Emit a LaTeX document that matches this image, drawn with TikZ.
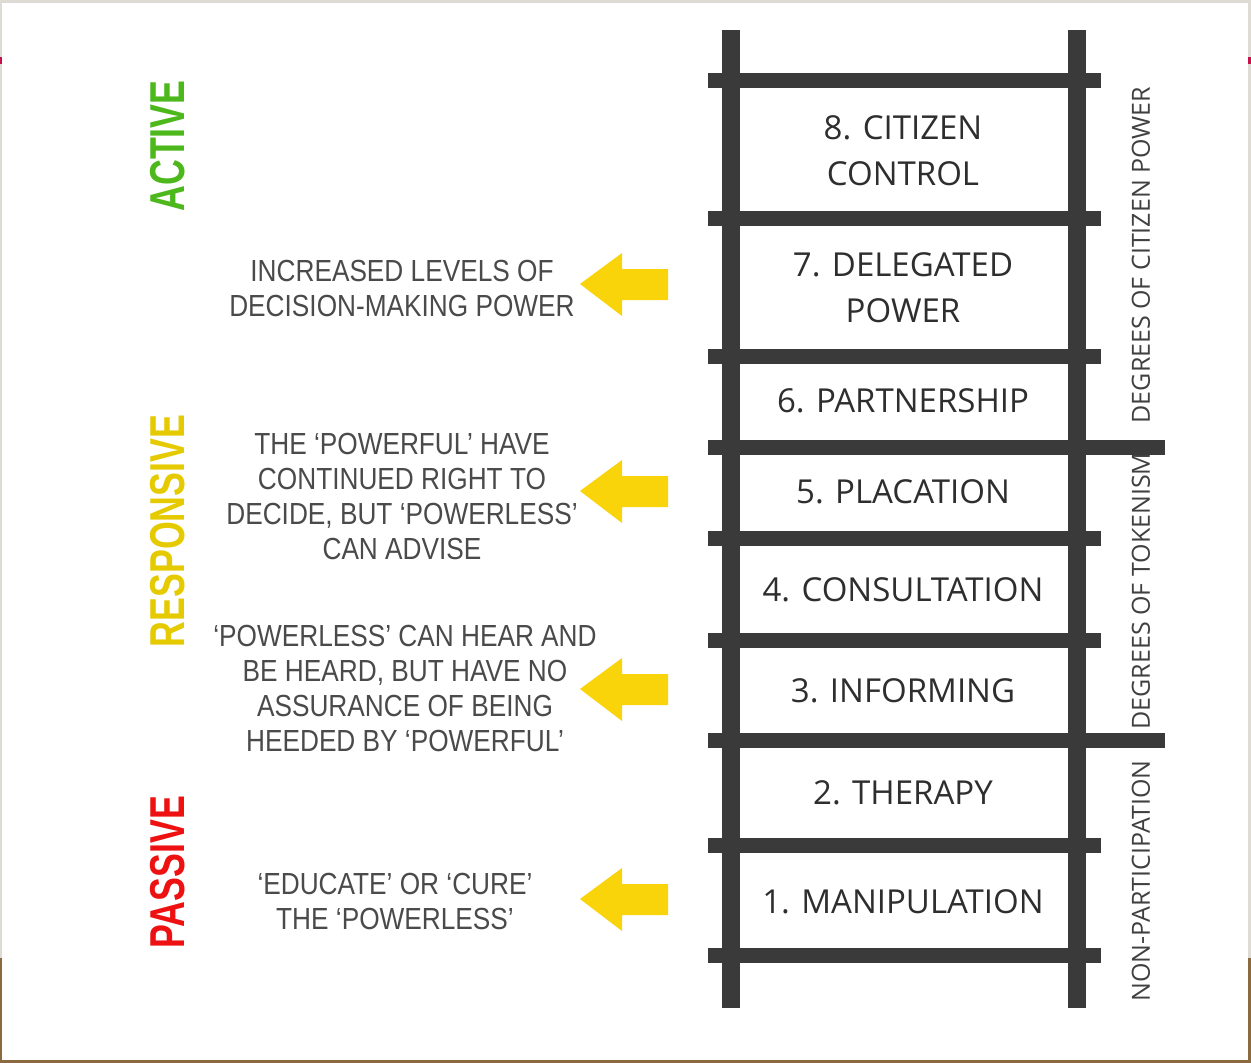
\documentclass[tikz,border=0pt]{standalone}
\usepackage{fontspec}
\newfontfamily\rungfont{Open Sans}
\newfontfamily\notefont[FakeStretch=0.86]{Liberation Sans}
\newfontfamily\levelfont[FakeStretch=0.73]{Liberation Sans}
\definecolor{ladder}{HTML}{3A3A3A}
\definecolor{rungtext}{HTML}{2E2E2E}
\definecolor{notetext}{HTML}{4A4A4A}
\definecolor{sidetext}{HTML}{404040}
\definecolor{arrowyellow}{HTML}{FAD40A}
\definecolor{activegreen}{HTML}{4CB81C}
\definecolor{respyellow}{HTML}{E6CA00}
\definecolor{passivered}{HTML}{EE1111}
\definecolor{framegrey}{HTML}{DEDAD4}
\definecolor{framebrown}{HTML}{8A6A3E}
\definecolor{tickred}{HTML}{C8104A}
\begin{document}
\begin{tikzpicture}[x=1bp,y=-1bp,
  rail/.style={ladder,line width=18bp},
  rung/.style={ladder,line width=15bp},
  rungtxt/.style={text=rungtext,font=\rungfont\fontsize{33bp}{46bp}\selectfont,align=center,inner sep=0pt},
  notetxt/.style={text=notetext,font=\notefont\fontsize{30.5bp}{35bp}\selectfont,align=center,inner sep=0pt},
  sidetxt/.style={text=sidetext,font=\rungfont\fontsize{25bp}{30bp}\selectfont,rotate=90,inner sep=0pt},
  leveltxt/.style={font=\levelfont\bfseries\fontsize{49bp}{55bp}\selectfont,rotate=90,inner sep=0pt},
  yellowarrow/.pic={\fill[arrowyellow] (0,0) -- (42,-31) -- (42,-15) -- (88,-15)
      -- (88,16) -- (42,16) -- (42,32) -- cycle;}]
\useasboundingbox (0,0) rectangle (1251,1063);
% page and its thin frame
\fill[framegrey] (0,0) rectangle (1251,1063);
\fill[framebrown] (0,958) rectangle (1251,1063);
\fill[white] (2,3) rectangle (1248,1060);
\fill[tickred] (0,57) rectangle (2,64);
\fill[tickred] (1248,57) rectangle (1251,64);

% ladder rails
\draw[rail] (731,30) -- (731,1008);
\draw[rail] (1077,30) -- (1077,1008);
% ladder rungs (the two at the group boundaries run further right)
\foreach \yy in {80,218,356,538,640,845,955}
  \draw[rung] (708,\yy) -- (1101,\yy);
\foreach \yy in {447,740}
  \draw[rung] (708,\yy) -- (1165,\yy);

% rung labels
\node[rungtxt] (r8) at (903,151) {8. CITIZEN\\CONTROL};
\node[rungtxt] (r7) at (903,288) {7. DELEGATED\\POWER};
\node[rungtxt] (r6) at (903,401) {6. PARTNERSHIP};
\node[rungtxt] (r5) at (903,492) {5. PLACATION};
\node[rungtxt] (r4) at (903,590) {4. CONSULTATION};
\node[rungtxt] (r3) at (903,691) {3. INFORMING};
\node[rungtxt] (r2) at (903,793) {2. THERAPY};
\node[rungtxt] (r1) at (903,902) {1. MANIPULATION};

% group labels on the right
\node[sidetxt] (gpower) at (1141,255) {DEGREES OF CITIZEN POWER};
\node[sidetxt] (gtoken) at (1141,591) {DEGREES OF TOKENISM};
\node[sidetxt] (gnon) at (1141,881) {NON-PARTICIPATION};

% levels on the left
\node[leveltxt,text=activegreen] (lactive) at (168,146) {ACTIVE};
\node[leveltxt,text=respyellow] (lresp) at (168,531) {RESPONSIVE};
\node[leveltxt,text=passivered] (lpassive) at (168,872) {PASSIVE};

% notes and arrows
\node[notetxt] (n7) at (402,288) {INCREASED LEVELS OF\\DECISION-MAKING POWER};
\node[notetxt] (n5) at (402,496) {THE ‘POWERFUL’ HAVE\\CONTINUED RIGHT TO\\DECIDE, BUT ‘POWERLESS’\\CAN ADVISE};
\node[notetxt] (n3) at (405,688) {‘POWERLESS’ CAN HEAR AND\\BE HEARD, BUT HAVE NO\\ASSURANCE OF BEING\\HEEDED BY ‘POWERFUL’};
\node[notetxt] (n1) at (395,901) {‘EDUCATE’ OR ‘CURE’\\THE ‘POWERLESS’};
\pic at (580,284) {yellowarrow};
\pic at (580,491) {yellowarrow};
\pic at (580,689) {yellowarrow};
\pic at (580,899) {yellowarrow};
\end{tikzpicture}
\end{document}
